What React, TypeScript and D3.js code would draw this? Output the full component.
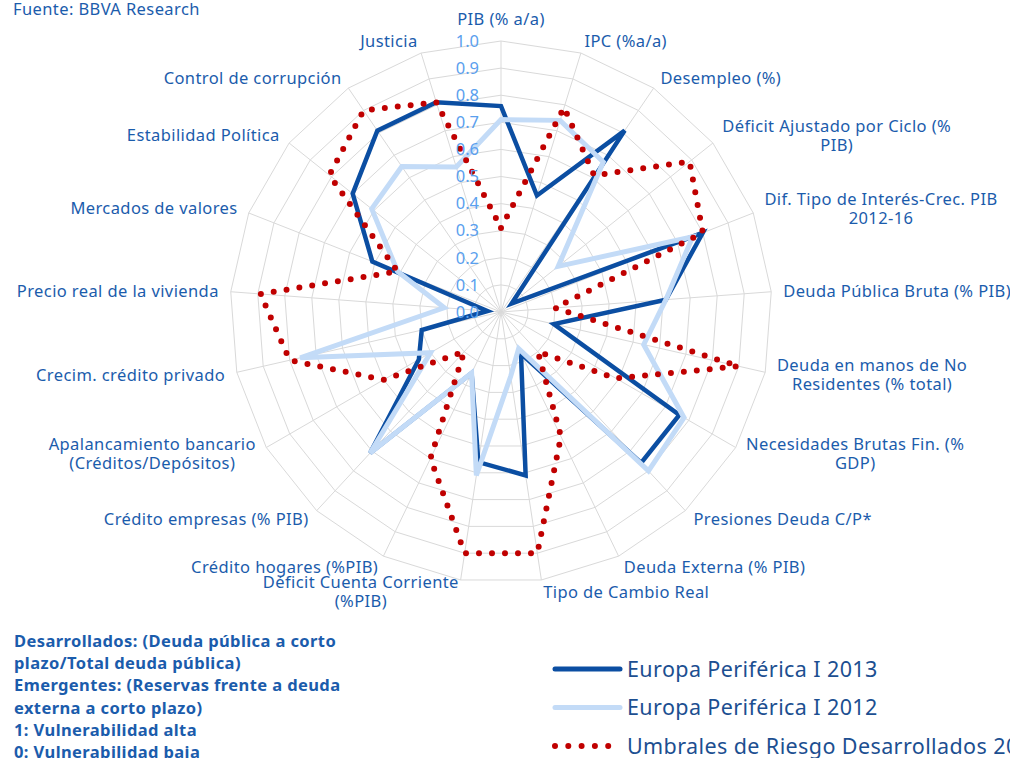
import * as d3 from "d3";
import React, { useRef, useEffect } from "react";

// ejes del radar (en sentido horario desde arriba)
const categories = [
  "PIB (% a/a)",
  "IPC (%a/a)",
  "Desempleo (%)",
  "Déficit Ajustado por Ciclo (%|PIB)",
  "Dif. Tipo de Interés-Crec. PIB|2012-16",
  "Deuda Pública Bruta (% PIB)",
  "Deuda en manos de No|Residentes (% total)",
  "Necesidades Brutas Fin. (%|GDP)",
  "Presiones Deuda C/P*",
  "Deuda Externa  (% PIB)",
  "Tipo de Cambio Real",
  "Déficit Cuenta Corriente|(%PIB)",
  "Crédito hogares (%PIB)",
  "Crédito empresas (% PIB)",
  "Apalancamiento bancario|(Créditos/Depósitos)",
  "Crecim. crédito privado",
  "Precio real de la vivienda",
  "Mercados de valores",
  "Estabilidad Política",
  "Control de corrupción",
  "Justicia",
];

const europa2013 = [0.76, 0.45, 0.81, 0.05, 0.8, 0.61, 0.2, 0.76, 0.76, 0.17, 0.61, 0.56, 0.25, 0.71, 0.35, 0.3, 0.05, 0.51, 0.7, 0.81, 0.81];
const europa2012 = [0.71, 0.74, 0.67, 0.27, 0.76, 0.61, 0.54, 0.78, 0.8, 0.15, 0.24, 0.61, 0.25, 0.71, 0.3, 0.76, 0.21, 0.41, 0.61, 0.65, 0.56];
const umbrales = [0.31, 0.79, 0.61, 0.89, 0.8, 0.2, 0.9, 0.49, 0.2, 0.51, 0.9, 0.9, 0.6, 0.2, 0.5, 0.8, 0.89, 0.41, 0.81, 0.9, 0.81];

const ticks = [0, 0.1, 0.2, 0.3, 0.4, 0.5, 0.6, 0.7, 0.8, 0.9, 1.0];

const seriesNames = [
  "Europa Periférica I 2013",
  "Europa Periférica I 2012",
  "Umbrales de Riesgo Desarrollados 2013",
];

const notes = [
  "Desarrollados: (Deuda pública a corto",
  "plazo/Total deuda pública)",
  "Emergentes: (Reservas frente a deuda",
  "externa a corto plazo)",
  "1: Vulnerabilidad alta",
  "0: Vulnerabilidad baja",
];

const width = 1010;
const height = 758;
const cx = 501;
const cy = 312;
const R = 271;
const FONT = "'Noto Sans', 'Open Sans', sans-serif";
const DARK = "#0b4ea2";
const LIGHT = "#c3dbf7";
const RED = "#c00000";
const GRID = "#d9d9d9";
const LABEL = "#1b5cac";

function App() {
  const ref = useRef(null);

  useEffect(() => {
    draw();
  }, []);

  const draw = () => {
    const svg = d3.select(ref.current);
    svg.selectAll("*").remove();

    const n = categories.length;
    const angle = d3
      .scaleLinear()
      .domain([0, n])
      .range([0, 2 * Math.PI]);
    const r = d3.scaleLinear().domain([0, 1]).range([0, R]);

    const g = svg.append("g").attr("transform", `translate(${cx},${cy})`);

    // anillos
    const ring = d3
      .lineRadial()
      .angle((d, i) => angle(i))
      .radius((d) => r(d))
      .curve(d3.curveLinearClosed);

    g.selectAll(".ring")
      .data(ticks.slice(1))
      .enter()
      .append("path")
      .attr("d", (t) => ring(categories.map(() => t)))
      .attr("fill", "none")
      .attr("stroke", GRID)
      .attr("stroke-width", 1);

    // radios
    g.selectAll(".spoke")
      .data(categories)
      .enter()
      .append("line")
      .attr("x1", 0)
      .attr("y1", 0)
      .attr("x2", (d, i) => r(1) * Math.sin(angle(i)))
      .attr("y2", (d, i) => -r(1) * Math.cos(angle(i)))
      .attr("stroke", GRID)
      .attr("stroke-width", 1);

    // series: 2013, 2012, umbrales (la última encima)
    const line = d3
      .lineRadial()
      .angle((d, i) => angle(i))
      .radius((d) => r(d))
      .curve(d3.curveLinearClosed);

    g.append("path")
      .attr("d", line(europa2013))
      .attr("fill", "none")
      .attr("stroke", DARK)
      .attr("stroke-width", 4.5)
      .attr("stroke-linejoin", "miter");

    g.append("path")
      .attr("d", line(europa2012))
      .attr("fill", "none")
      .attr("stroke", LIGHT)
      .attr("stroke-width", 5)
      .attr("stroke-linejoin", "miter");

    g.append("path")
      .attr("d", line(umbrales))
      .attr("fill", "none")
      .attr("stroke", RED)
      .attr("stroke-width", 6)
      .attr("stroke-linecap", "round")
      .attr("stroke-dasharray", "0 13");

    // etiquetas del eje de valores
    g.selectAll(".tick")
      .data(ticks)
      .enter()
      .append("text")
      .attr("x", -22)
      .attr("y", (t) => -r(t))
      .attr("dy", "0.35em")
      .attr("text-anchor", "end")
      .attr("font-family", FONT)
      .attr("font-size", 16.5)
      .attr("fill", "#5aa0ee")
      .text((t) => t.toFixed(1));

    // etiquetas de categoría
    categories.forEach((c, i) => {
      const a = angle(i);
      const s = Math.sin(a);
      const co = Math.cos(a);
      const ax = (R + 12) * s;
      let ay = -(R + 12) * co;
      if (Math.abs(s) < 0.1) ay -= 10;
      const lines = c.split("|");
      const lh = 19;
      const t = g
        .append("text")
        .attr("font-family", FONT)
        .attr("font-size", 16.5)
        .attr("letter-spacing", 0.4)
        .attr("fill", LABEL)
        .attr("text-anchor", "middle");
      lines.forEach((l, j) => {
        t.append("tspan")
          .attr("y", ay + (j - (lines.length - 1) / 2) * lh)
          .attr("dy", "0.35em")
          .text(l);
      });
      const w = d3.max(t.selectAll("tspan").nodes(), (nd) => nd.getComputedTextLength());
      let x = ax;
      if (s > 0.1) x = ax + w / 2;
      else if (s < -0.1) x = ax - w / 2;
      t.selectAll("tspan").attr("x", x);
    });

    // fuente
    svg
      .append("text")
      .attr("x", 13)
      .attr("y", 9)
      .attr("dy", "0.35em")
      .attr("font-family", FONT)
      .attr("font-size", 16.5)
      .attr("letter-spacing", 0.4)
      .attr("fill", LABEL)
      .text("Fuente: BBVA Research");

    // notas
    svg
      .selectAll(".note")
      .data(notes)
      .enter()
      .append("text")
      .attr("x", 14)
      .attr("y", (d, i) => 641 + i * 22.3)
      .attr("dy", "0.35em")
      .attr("font-family", FONT)
      .attr("font-size", 16.5)
      .attr("letter-spacing", 0.4)
      .attr("font-weight", "bold")
      .attr("fill", LABEL)
      .text((d) => d);

    // leyenda
    const legend = svg.append("g");
    const styles = [
      { stroke: DARK, w: 5, dash: null, x2: 620 },
      { stroke: LIGHT, w: 5, dash: null, x2: 620 },
      { stroke: RED, w: 6, dash: "0 13.3", x2: 610 },
    ];
    seriesNames.forEach((name, i) => {
      const y = 669 + i * 38.5;
      const st = styles[i];
      legend
        .append("line")
        .attr("x1", 555)
        .attr("x2", st.x2)
        .attr("y1", y)
        .attr("y2", y)
        .attr("stroke", st.stroke)
        .attr("stroke-width", st.w)
        .attr("stroke-linecap", "round")
        .attr("stroke-dasharray", st.dash);
      legend
        .append("text")
        .attr("x", 627)
        .attr("y", y)
        .attr("dy", "0.35em")
        .attr("font-family", FONT)
        .attr("font-size", 21.5)
        .attr("letter-spacing", 0.4)
        .attr("fill", "#1c4f91")
        .text(name);
    });
  };

  return (
    <svg
      ref={ref}
      width={width}
      height={height}
      style={{ position: "absolute", left: 0, top: 0, background: "#fff" }}
    ></svg>
  );
}

export default App;
